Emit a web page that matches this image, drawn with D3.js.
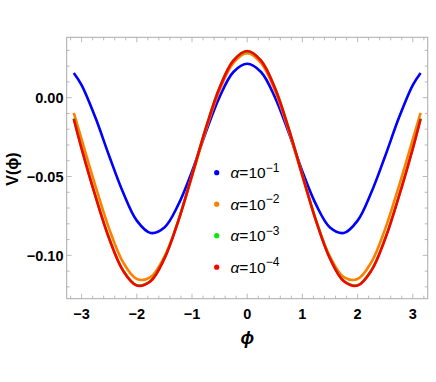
<!DOCTYPE html>
<html>
<head>
<meta charset="utf-8">
<script src="https://cdn.jsdelivr.net/npm/d3@7"></script>
<style>
  body { margin: 0; background: #fff; }
  svg { display: block; }
</style>
</head>
<body>
<svg id="chart" width="436" height="382"></svg>
<script>
// sample points (phi from -pi to pi, symmetric)
var phi = [-3.1416, -3.0, -2.75, -2.5, -2.25, -2.0, -1.75, -1.5, -1.25, -1.0, -0.75, -0.5, -0.25, 0,
           0.25, 0.5, 0.75, 1.0, 1.25, 1.5, 1.75, 2.0, 2.25, 2.5, 2.75, 3.0, 3.1416];

var half_a1 = [0.0157, 0.0080, -0.0126, -0.0370, -0.0600, -0.0780, -0.0858, -0.0823, -0.0680, -0.0468, -0.0220, 0.0005, 0.0163, 0.0215];
var half_a2 = [-0.0097, -0.0264, -0.0559, -0.0832, -0.1043, -0.1150, -0.1138, -0.1008, -0.0783, -0.0499, -0.0207, 0.0047, 0.0220, 0.0282];
var half_a3 = [-0.0131, -0.0320, -0.0622, -0.0892, -0.1094, -0.1189, -0.1161, -0.1018, -0.0781, -0.0490, -0.0192, 0.0066, 0.0237, 0.0294];
var half_a4 = [-0.0135, -0.0323, -0.0625, -0.0895, -0.1097, -0.1192, -0.1164, -0.1021, -0.0784, -0.0493, -0.0195, 0.0063, 0.0235, 0.0296];

var xTicks = [-3, -2, -1, 0, 1, 2, 3];
var yTicks = [0.00, -0.05, -0.10];

function mirror(h){
    // left half incl. 0, then right half mirrored
    var r = h.slice();
    for(var i=h.length-2;i>=0;i--) r.push(h[i]);
    return r;
}

function draw(){
    var series = [
        {exp: "\u22121", color: "#0000ff", values: mirror(half_a1)},
        {exp: "\u22122", color: "#ff8000", values: mirror(half_a2)},
        {exp: "\u22123", color: "#00ee00", values: mirror(half_a3)},
        {exp: "\u22124", color: "#ff0000", values: mirror(half_a4)}
    ];

    var svg = d3.select("#chart");
    var mLeft = 66.7, mRight = 427.7, mTop = 37.3, mBottom = 298.7;

    var x = d3.scaleLinear().domain([-3.27, 3.27]).range([mLeft, mRight]);
    var y = d3.scaleLinear().domain([-0.1275, 0.0383]).range([mBottom, mTop]);

    var frameColor = "#aaaaaa";

    // curves
    var line = d3.line()
        .x(function(d){ return x(d[0]); })
        .y(function(d){ return y(d[1]); })
        .curve(d3.curveCatmullRom.alpha(0.5));

    var plot = svg.append("g");
    series.forEach(function(s){
        var pts = phi.map(function(p,i){ return [p, s.values[i]]; });
        plot.append("path")
            .datum(pts)
            .attr("d", line)
            .attr("fill", "none")
            .attr("stroke", s.color)
            .attr("stroke-width", 2.6)
            .attr("stroke-linejoin", "round");
    });

    // frame
    svg.append("rect")
        .attr("x", mLeft).attr("y", mTop)
        .attr("width", mRight-mLeft).attr("height", mBottom-mTop)
        .attr("fill", "none")
        .attr("stroke", frameColor)
        .attr("stroke-width", 1);

    // ticks (inward, on all four sides)
    var ticks = svg.append("g").attr("stroke", frameColor).attr("stroke-width", 0.8);
    d3.range(-3.2, 3.21, 0.2).forEach(function(v){
        var major = Math.abs(v - Math.round(v)) < 1e-6;
        var len = major ? 5 : 3;
        var px = x(v);
        ticks.append("line").attr("x1", px).attr("x2", px).attr("y1", mBottom).attr("y2", mBottom-len);
        ticks.append("line").attr("x1", px).attr("x2", px).attr("y1", mTop).attr("y2", mTop+len);
    });
    d3.range(-0.12, 0.031, 0.01).forEach(function(v){
        var major = Math.abs(v*20 - Math.round(v*20)) < 1e-6;
        var len = major ? 5 : 3;
        var py = y(v);
        ticks.append("line").attr("y1", py).attr("y2", py).attr("x1", mLeft).attr("x2", mLeft+len);
        ticks.append("line").attr("y1", py).attr("y2", py).attr("x1", mRight).attr("x2", mRight-len);
    });

    // tick labels
    var lblFont = "'Liberation Sans', Arial, sans-serif";
    svg.append("g").selectAll("text")
        .data(xTicks).enter().append("text")
        .attr("x", function(d){ return x(d); })
        .attr("y", 318.5)
        .attr("text-anchor", "middle")
        .attr("font-family", lblFont)
        .attr("font-weight", "bold")
        .attr("font-size", 14.5)
        .text(function(d){ return d < 0 ? "\u2212" + Math.abs(d) : d; });

    svg.append("g").selectAll("text")
        .data(yTicks).enter().append("text")
        .attr("x", 63.5)
        .attr("y", function(d){ return y(d) + 5.2; })
        .attr("text-anchor", "end")
        .attr("font-family", lblFont)
        .attr("font-weight", "bold")
        .attr("font-size", 14.5)
        .text(function(d){ return d < 0 ? "\u2212" + Math.abs(d).toFixed(2) : d.toFixed(2); });

    // axis titles
    svg.append("text")
        .attr("x", x(0))
        .attr("y", 344)
        .attr("text-anchor", "middle")
        .attr("font-family", lblFont)
        .attr("font-weight", "bold")
        .attr("font-style", "italic")
        .attr("font-size", 18)
        .text("\u03d5");

    svg.append("text")
        .attr("transform", "translate(18,169) rotate(-90)")
        .attr("text-anchor", "middle")
        .attr("font-family", lblFont)
        .attr("font-weight", "bold")
        .attr("font-size", 16)
        .text("V(\u03d5)");

    // legend
    var legend = svg.append("g");
    series.forEach(function(s, i){
        var ly = 172.7 + i*31.5;
        legend.append("circle")
            .attr("cx", 216.7).attr("cy", ly)
            .attr("r", 2.6)
            .attr("fill", s.color);
        var t = legend.append("text")
            .attr("x", 230.5).attr("y", ly + 5.5)
            .attr("font-family", lblFont)
            .attr("font-size", 15.5);
        t.append("tspan").attr("font-style", "italic").text("\u03b1");
        t.append("tspan").text("=10");
        t.append("tspan").attr("font-size", 12).attr("dy", -6.5).text(s.exp);
    });
}

draw();
</script>
</body>
</html>
